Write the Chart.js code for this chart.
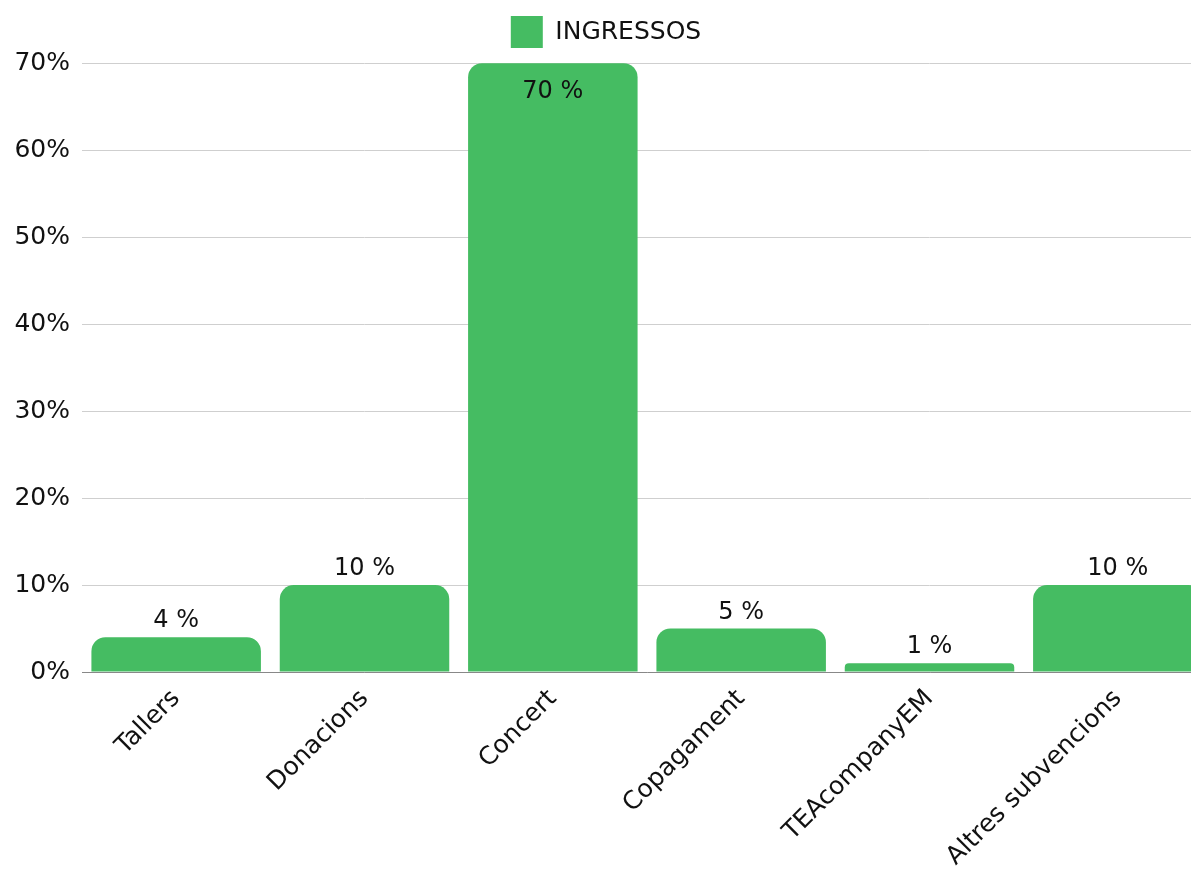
<!DOCTYPE html>
<html>
<head>
<meta charset="utf-8">
<script src="https://cdn.jsdelivr.net/npm/chart.js@4"></script>
<style>
  html, body { margin: 0; padding: 0; background: #fff; overflow: hidden; }
  #wrap { width: 1191px; height: 875px; overflow: hidden; }
</style>
</head>
<body>
<div id="wrap"><canvas id="myChart" width="1212" height="875"></canvas></div>
<script>
const categories = ["Tallers", "Donacions", "Concert", "Copagament", "TEAcompanyEM", "Altres subvencions"];
const ingressos = [4, 10, 70, 5, 1, 10];
const yTicks = [0, 10, 20, 30, 40, 50, 60, 70];

const fontFamily = "'DejaVu Sans', sans-serif";
const fontSize = 25;

// draws the "N %" value labels (no datalabels plugin available offline)
const valueLabels = {
  id: "valueLabels",
  afterDatasetsDraw(chart) {
    const c = chart.ctx;
    const meta = chart.getDatasetMeta(0);
    c.save();
    c.font = "24px " + fontFamily;
    c.fillStyle = "#111";
    c.textAlign = "center";
    meta.data.forEach((bar, i) => {
      const v = ingressos[i];
      if (bar.y - chart.chartArea.top < 40) {
        c.textBaseline = "middle";
        c.fillText(v + " %", bar.x, bar.y + 29);
      } else {
        c.textBaseline = "alphabetic";
        c.fillText(v + " %", bar.x, bar.y - 10);
      }
    });
    c.restore();
  }
};

const ctx = document.querySelector("#myChart");

const config = {
  type: "bar",
  data: {
    labels: categories,
    datasets: [{
      label: "INGRESSOS",
      data: ingressos,
      backgroundColor: "#45bc62",
      borderRadius: { topLeft: 14, topRight: 14 },
      borderSkipped: "bottom",
      barPercentage: 0.9,
      categoryPercentage: 1.0
    }]
  },
  options: {
    responsive: false,
    animation: false,
    devicePixelRatio: 1,
    layout: { padding: { top: 8, right: 0, bottom: 0, left: 0 } },
    plugins: {
      legend: {
        position: "top",
        labels: {
          boxWidth: 32,
          boxHeight: 32,
          padding: 8,
          color: "#111",
          font: { family: fontFamily, size: fontSize }
        }
      },
      tooltip: { enabled: false }
    },
    scales: {
      x: {
        grid: { display: false, drawTicks: false },
        border: { display: true, color: "#888", width: 1 },
        ticks: {
          color: "#111",
          font: { family: fontFamily, size: fontSize },
          minRotation: 45,
          maxRotation: 45,
          padding: 12
        },
        afterFit: (scale) => { scale.height = 203; }
      },
      y: {
        min: 0,
        max: 70.6,
        afterBuildTicks: (scale) => { scale.ticks = yTicks.map(v => ({ value: v })); },
        grid: { color: "#cfcfcf", drawTicks: false, lineWidth: 1 },
        border: { display: false },
        ticks: {
          color: "#111",
          font: { family: fontFamily, size: fontSize },
          padding: 12,
          callback: (v) => v + "%"
        },
        afterFit: (scale) => { scale.width = 82; }
      }
    }
  },
  plugins: [valueLabels]
};

const chart = new Chart(ctx, config);
</script>
</body>
</html>
